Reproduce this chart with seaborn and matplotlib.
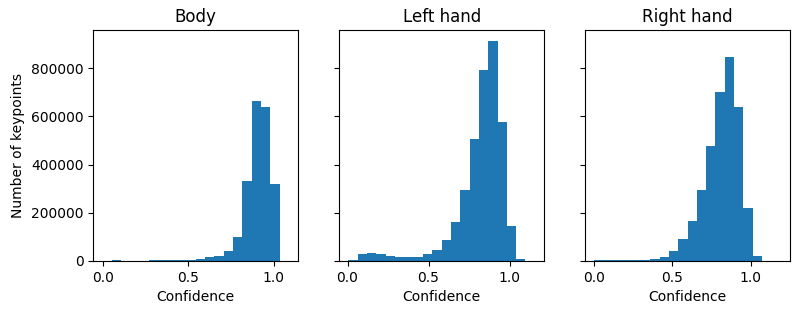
import numpy as np
import pandas as pd
import matplotlib
matplotlib.use("Agg")
import matplotlib.pyplot as plt
import seaborn as sns

# counts per histogram bin
titles = ["Body", "Left hand", "Right hand"]

body_start, body_width = 0.0, 0.0544
body_counts = [500, 5000, 0, 0, 0, 4000, 4000, 4500, 5000, 5000,
               10000, 15000, 20000, 40000, 98000, 330000, 665000, 640000, 320000, 0]

left_start, left_width = 0.006, 0.0575
left_counts = [4000, 29000, 33000, 29000, 21000, 17000, 17000, 17000, 29000, 45000,
               87000, 161000, 294000, 505000, 795000, 912000, 579000, 145000, 8000, 0]

right_start, right_width = 0.004, 0.0593
right_counts = [4000, 4000, 4000, 4000, 4000, 4000, 8000, 17000, 43000, 91000,
                166000, 294000, 476000, 703000, 848000, 641000, 219000, 21000, 0, 0]

parts = [(body_start, body_width, body_counts),
         (left_start, left_width, left_counts),
         (right_start, right_width, right_counts)]

fig, axes = plt.subplots(1, 3, figsize=(8, 3.14), dpi=100, sharey=True)
fig.subplots_adjust(left=0.1166, right=0.9875, top=0.904, bottom=0.169, wspace=0.2)

for ax, title, (start, width, counts) in zip(axes, titles, parts):
    n = len(counts)
    edges = start + width * np.arange(n + 1)
    centers = (edges[:-1] + edges[1:]) / 2
    df = pd.DataFrame({"conf": centers, "count": counts})
    sns.histplot(data=df, x="conf", weights="count", bins=edges.tolist(), ax=ax,
                 color="#1f77b4", alpha=1, linewidth=0, edgecolor="none")
    lo, hi = edges[0], edges[-1]
    pad = 0.05 * (hi - lo)
    ax.set_xlim(lo - pad, hi + pad)
    ax.set_title(title)
    ax.set_xlabel("Confidence")
    ax.set_ylabel("")

axes[0].set_ylim(0, 958600)
axes[0].set_ylabel("Number of keypoints")

fig.savefig("out.png", dpi=100)
